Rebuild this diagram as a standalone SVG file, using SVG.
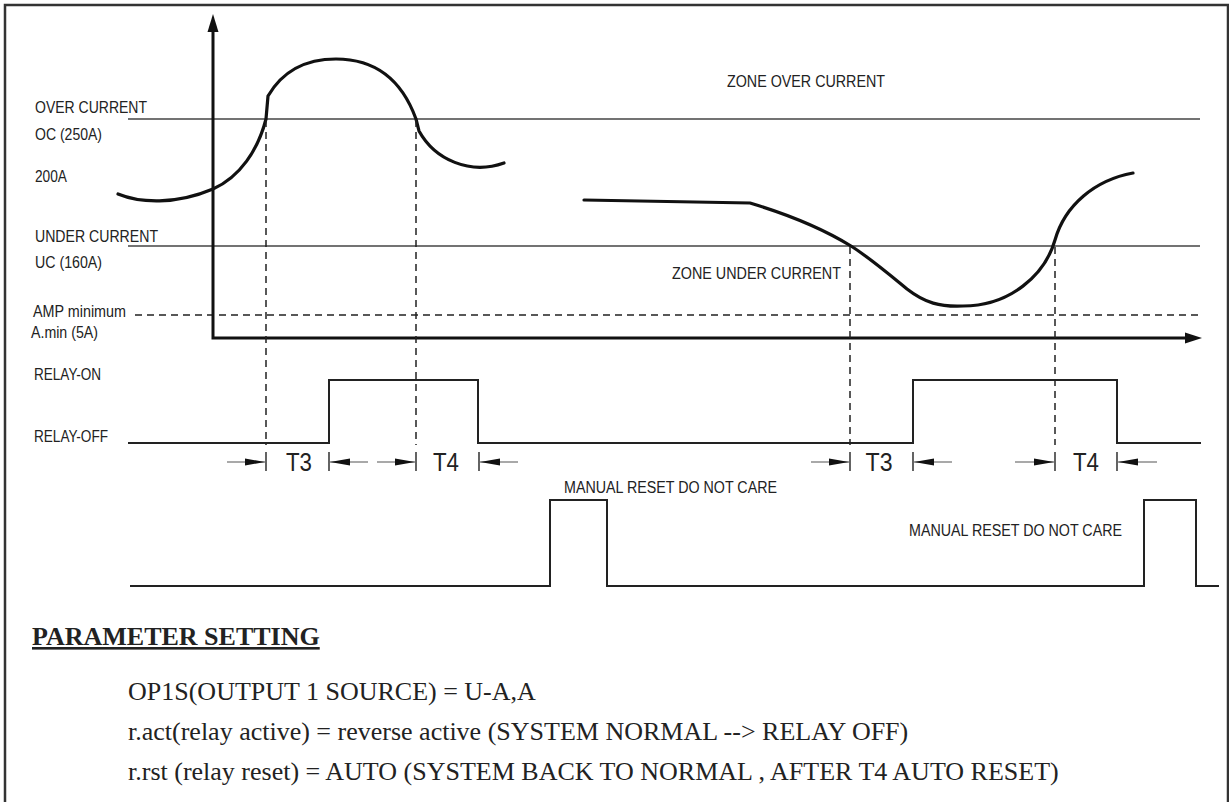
<svg xmlns="http://www.w3.org/2000/svg" width="1229" height="802" viewBox="0 0 1229 802">
  <style>
    .lbl { font-family: "Liberation Sans Narrow", "Liberation Sans", Arial, sans-serif; font-size: 16px; fill: #222; }
    .tl { font-family: "Liberation Sans Narrow", "Liberation Sans", Arial, sans-serif; font-size: 25px; fill: #222; text-anchor: middle; }
    .par { font-family: "Liberation Serif", "Times New Roman", serif; font-size: 26px; fill: #222; }
    .thr { stroke: #444; stroke-width: 1.6; fill: none; }
    .dash { stroke: #222; stroke-width: 1.6; stroke-dasharray: 7 5; fill: none; }
    .vdash { stroke: #222; stroke-width: 1.5; stroke-dasharray: 7 5; fill: none; }
    .curve { stroke: #111; stroke-width: 3.2; fill: none; stroke-linecap: round; }
    .sig { stroke: #222; stroke-width: 2; fill: none; }
    .axis { stroke: #111; stroke-width: 3; fill: none; }
    .tk { stroke: #222; stroke-width: 1.4; }
    .ar { stroke: #555; stroke-width: 1.2; }
  </style>
  <defs>
    <marker id="tip" viewBox="0 0 20 8" refX="20" refY="4" markerWidth="20" markerHeight="8" orient="auto" markerUnits="userSpaceOnUse">
      <path d="M0,0.5 L20,4 L0,7.5 z" fill="#111"/>
    </marker>
  </defs>
  <rect width="1229" height="802" fill="#fff"/>

  <g id="frame">
    <path d="M5,802 V5 H1228 V802" fill="none" stroke="#333" stroke-width="2.5"/>
  </g>

  <g id="thresholds">
    <line class="thr" x1="128" y1="119" x2="1200" y2="119"/>
    <line class="thr" x1="128" y1="246" x2="1200" y2="246"/>
    <line class="dash" x1="135" y1="315" x2="1200" y2="315"/>
  </g>

  <g id="axes">
    <path class="axis" d="M213,30 V338 H1188"/>
    <path d="M213,14 L207.5,32 L218.5,32 z" fill="#111"/>
    <path d="M1202,338 L1185,332.5 L1185,343.5 z" fill="#111"/>
  </g>

  <g id="labels">
    <text class="lbl" x="35" y="113" textLength="112" lengthAdjust="spacingAndGlyphs">OVER CURRENT</text>
    <text class="lbl" x="35" y="140" textLength="67" lengthAdjust="spacingAndGlyphs">OC (250A)</text>
    <text class="lbl" x="35" y="182" textLength="32" lengthAdjust="spacingAndGlyphs">200A</text>
    <text class="lbl" x="35" y="242" textLength="123" lengthAdjust="spacingAndGlyphs">UNDER CURRENT</text>
    <text class="lbl" x="35" y="268" textLength="67" lengthAdjust="spacingAndGlyphs">UC (160A)</text>
    <text class="lbl" x="33" y="317" textLength="93" lengthAdjust="spacingAndGlyphs">AMP minimum</text>
    <text class="lbl" x="31" y="338" textLength="67" lengthAdjust="spacingAndGlyphs">A.min (5A)</text>
    <text class="lbl" x="34" y="380" textLength="67" lengthAdjust="spacingAndGlyphs">RELAY-ON</text>
    <text class="lbl" x="34" y="442" textLength="74" lengthAdjust="spacingAndGlyphs">RELAY-OFF</text>
    <text class="lbl" x="727" y="87" textLength="158" lengthAdjust="spacingAndGlyphs">ZONE OVER CURRENT</text>
    <text class="lbl" x="672" y="279" textLength="169" lengthAdjust="spacingAndGlyphs">ZONE UNDER CURRENT</text>
    <text class="lbl" x="564" y="493" textLength="213" lengthAdjust="spacingAndGlyphs">MANUAL RESET DO NOT CARE</text>
    <text class="lbl" x="909" y="536" textLength="213" lengthAdjust="spacingAndGlyphs">MANUAL RESET DO NOT CARE</text>
  </g>

  <g id="current-curve">
    <path class="curve" d="M118,194 C140,203 175,205 213,189 C240,177 258,150 266,119 L268,96 C282,72 305,59 336,59 C370,59 400,75 416,119 L419,131 C435,160 470,175 504,163"/>
    <path class="curve" d="M584,200 L750,203 C790,215 825,230 851,246 C870,258 890,275 907,289 C925,303 940,307 963,306 C1010,306 1045,275 1055,240 C1065,205 1095,180 1133,173"/>
  </g>

  <g id="connectors">
    <line class="vdash" x1="266" y1="120" x2="266" y2="445"/>
    <line class="vdash" x1="416" y1="120" x2="416" y2="445"/>
    <line class="vdash" x1="850" y1="247" x2="850" y2="445"/>
    <line class="vdash" x1="1055" y1="247" x2="1055" y2="445"/>
  </g>

  <g id="relay-signal">
    <path class="sig" d="M128,443 H329 V380 H478 V443 H913 V380 H1117 V443 H1201"/>
  </g>

  <g id="manual-reset-signal">
    <path class="sig" d="M130,586 H550 V500 H607 V586 H1144 V500 H1196 V586 H1219"/>
  </g>

  <g id="timing">
    <line class="tk" x1="266" y1="452" x2="266" y2="471"/>
    <line class="tk" x1="329" y1="452" x2="329" y2="471"/>
    <line class="tk" x1="416" y1="452" x2="416" y2="471"/>
    <line class="tk" x1="479" y1="452" x2="479" y2="471"/>
    <line class="tk" x1="850" y1="452" x2="850" y2="471"/>
    <line class="tk" x1="913" y1="452" x2="913" y2="471"/>
    <line class="tk" x1="1055" y1="452" x2="1055" y2="471"/>
    <line class="tk" x1="1117" y1="452" x2="1117" y2="471"/>
    <line class="ar" x1="227" y1="462" x2="265" y2="462" marker-end="url(#tip)"/>
    <line class="ar" x1="368" y1="462" x2="330" y2="462" marker-end="url(#tip)"/>
    <line class="ar" x1="377" y1="462" x2="415" y2="462" marker-end="url(#tip)"/>
    <line class="ar" x1="518" y1="462" x2="480" y2="462" marker-end="url(#tip)"/>
    <line class="ar" x1="811" y1="462" x2="849" y2="462" marker-end="url(#tip)"/>
    <line class="ar" x1="952" y1="462" x2="914" y2="462" marker-end="url(#tip)"/>
    <line class="ar" x1="1015" y1="462" x2="1054" y2="462" marker-end="url(#tip)"/>
    <line class="ar" x1="1157" y1="462" x2="1118" y2="462" marker-end="url(#tip)"/>
    <text class="tl" x="299" y="471" textLength="26" lengthAdjust="spacingAndGlyphs">T3</text>
    <text class="tl" x="446" y="471" textLength="26" lengthAdjust="spacingAndGlyphs">T4</text>
    <text class="tl" x="879" y="471" textLength="27" lengthAdjust="spacingAndGlyphs">T3</text>
    <text class="tl" x="1086" y="471" textLength="26" lengthAdjust="spacingAndGlyphs">T4</text>
  </g>

  <g id="parameter-setting">
    <text class="par" x="32" y="645" font-weight="bold" text-decoration="underline">PARAMETER SETTING</text>
    <text class="par" x="128" y="700">OP1S(OUTPUT 1 SOURCE) = U-A,A</text>
    <text class="par" x="128" y="740">r.act(relay active) = reverse active (SYSTEM NORMAL --&gt; RELAY OFF)</text>
    <text class="par" x="128" y="780">r.rst (relay reset) = AUTO (SYSTEM BACK TO NORMAL , AFTER T4 AUTO RESET)</text>
  </g>
</svg>
